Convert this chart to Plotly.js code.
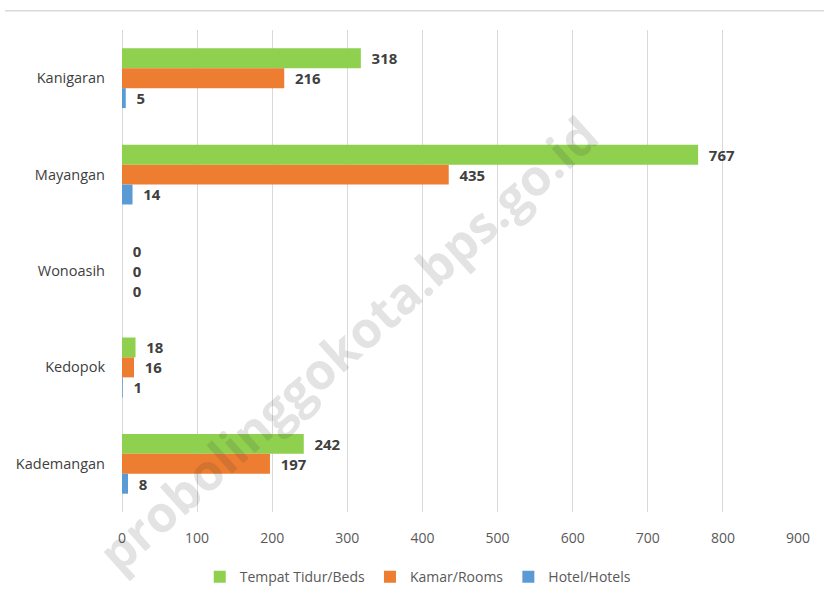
<!DOCTYPE html>
<html>
<head>
<meta charset="utf-8">
<script src="https://cdn.plot.ly/plotly-3.0.1.min.js"></script>
<style>html,body{margin:0;padding:0;background:#fff;}#chart{width:824px;height:605px;}</style>
</head>
<body>
<div id="chart"></div>
<script>
// Categories listed top to bottom
const categories = ["Kanigaran", "Mayangan", "Wonoasih", "Kedopok", "Kademangan"];
const beds = [318, 767, 0, 18, 242];
const rooms = [216, 435, 0, 16, 197];
const hotels = [5, 14, 0, 1, 8];
const xTicks = [0, 100, 200, 300, 400, 500, 600, 700, 800, 900];
const seriesNames = ["Tempat Tidur/Beds", "Kamar/Rooms", "Hotel/Hotels"];
const colors = ["#8fd14f", "#ed7d31", "#5b9bd5"];

const labelFont = {family: "Open Sans, Noto Sans, sans-serif", size: 15, color: "#404040", weight: 700};

function mk(vals, i) {
  return {
    type: "bar", orientation: "h",
    x: vals, y: categories, name: seriesNames[i],
    marker: {color: colors[i]},
    text: vals.map(v => "\u00a0\u00a0" + v), textposition: "outside",
    textfont: labelFont, cliponaxis: false,
    hoverinfo: "x+y"
  };
}

const data = [mk(beds, 0), mk(rooms, 1), mk(hotels, 2)];

const layout = {
  width: 824, height: 605,
  margin: {l: 122, r: 26, t: 30, b: 91},
  paper_bgcolor: "#ffffff", plot_bgcolor: "#ffffff",
  barmode: "group", bargap: 0.38, bargroupgap: 0,
  font: {family: "Open Sans, Noto Sans, sans-serif", color: "#595959", size: 14},
  xaxis: {
    range: [0, 900], tickvals: xTicks, ticktext: xTicks.map(String),
    showgrid: true, gridcolor: "#d9d9d9", gridwidth: 1,
    zeroline: true, zerolinecolor: "#d9d9d9", showline: false,
    ticks: "", ticklabelstandoff: 16, tickfont: {size: 14, color: "#595959"}, fixedrange: true
  },
  yaxis: {
    autorange: "reversed", showgrid: false, zeroline: false, showline: false,
    ticks: "", ticklabelstandoff: 16, tickfont: {size: 14.5, color: "#404040"}, fixedrange: true
  },
  showlegend: true,
  legend: {
    orientation: "h", x: 0.115, xanchor: "left", y: -0.135, yanchor: "middle",
    font: {size: 14, color: "#595959"}, itemwidth: 30, traceorder: "normal"
  },
  shapes: [{
    type: "line", xref: "paper", yref: "paper",
    x0: -0.173, x1: 1.04, y0: 1.04, y1: 1.04,
    line: {color: "#d9d9d9", width: 1.5}
  }],
  annotations: [{
    text: "probolinggokota.bps.go.id",
    xref: "paper", yref: "paper", x: 0.335, y: 0.35,
    xanchor: "center", yanchor: "middle", showarrow: false,
    textangle: -42,
    font: {family: "Open Sans, sans-serif", size: 50, weight: 700, color: "rgba(60,60,60,0.14)"}
  }]
};

Plotly.newPlot("chart", data, layout, {displayModeBar: false, staticPlot: true});
</script>
</body>
</html>
